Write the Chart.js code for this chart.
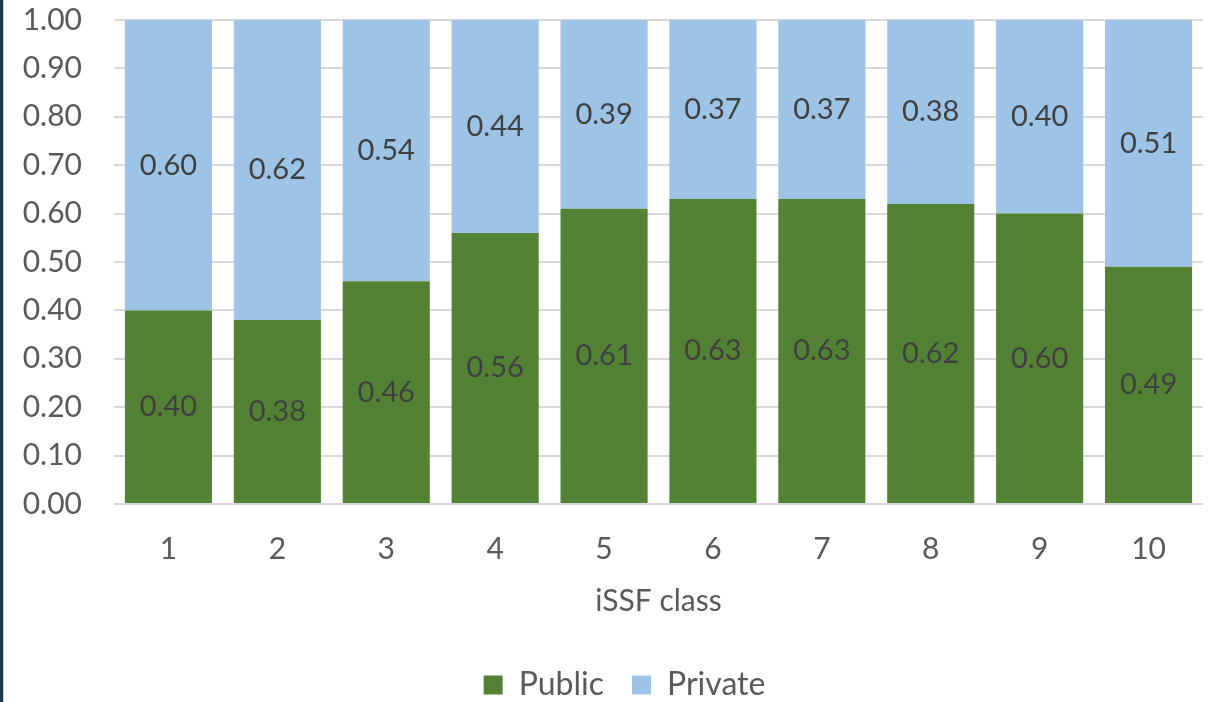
<!DOCTYPE html>
<html>
<head>
<meta charset="utf-8">
<script src="https://cdn.jsdelivr.net/npm/chart.js@4.4.1/dist/chart.umd.min.js"></script>
<style>
  html, body { margin: 0; padding: 0; background: #ffffff; }
  #wrap { position: relative; width: 1214px; height: 702px; overflow: hidden; }
  #edge { position: absolute; left: 0; top: 0; width: 3px; height: 702px; background: #1f3b57; }
  #edge2 { position: absolute; left: 3px; top: 0; width: 1px; height: 702px; background: #d6d6d6; }
  canvas { position: absolute; left: 0; top: 0; }
</style>
</head>
<body>
<div id="wrap">
  <canvas id="chart" width="1214" height="702"></canvas>
  <div id="edge"></div>
  <div id="edge2"></div>
</div>
<script>
// iSSF classes and the public / private shares in each
const classes = ['1', '2', '3', '4', '5', '6', '7', '8', '9', '10'];
const publicShare = [0.40, 0.38, 0.46, 0.56, 0.61, 0.63, 0.63, 0.62, 0.60, 0.49];
const privateShare = [0.60, 0.62, 0.54, 0.44, 0.39, 0.37, 0.37, 0.38, 0.40, 0.51];
const yTicks = [0, 0.1, 0.2, 0.3, 0.4, 0.5, 0.6, 0.7, 0.8, 0.9, 1.0];

const FONT = 'Lato, "Open Sans", sans-serif';
const TEXT = '#595959';

// Writes each segment's value at its middle
const segmentLabels = {
  id: 'segmentLabels',
  afterDatasetsDraw(chart) {
    const ctx = chart.ctx;
    ctx.save();
    ctx.font = '29px ' + FONT;
    ctx.fillStyle = '#404040';
    ctx.textAlign = 'center';
    ctx.textBaseline = 'middle';
    chart.data.datasets.forEach((ds, i) => {
      const meta = chart.getDatasetMeta(i);
      meta.data.forEach((bar, j) => {
        const y = (bar.y + bar.base) / 2;
        ctx.fillText(ds.data[j].toFixed(2), bar.x, y);
      });
    });
    ctx.restore();
  }
};

// Nudges the legend a little to the right of the canvas centre
const legendShift = {
  id: 'legendShift',
  afterLayout(chart) {
    if (chart.legend) {
      chart.legend.left += 17;
      chart.legend.right += 17;
    }
  }
};

new Chart(document.getElementById('chart'), {
  type: 'bar',
  data: {
    labels: classes,
    datasets: [
      { label: 'Public', data: publicShare, backgroundColor: '#548235' },
      { label: 'Private', data: privateShare, backgroundColor: '#9dc3e6' }
    ]
  },
  options: {
    responsive: false,
    animation: false,
    devicePixelRatio: 1,
    layout: { padding: { left: 12, right: 11, top: 20, bottom: -9 } },
    datasets: { bar: { barPercentage: 0.8, categoryPercentage: 1.0 } },
    scales: {
      x: {
        stacked: true,
        afterFit(axis) { axis.height = 137; },
        grid: { display: false, drawTicks: false },
        border: { display: false },
        ticks: { color: TEXT, font: { family: FONT, size: 30 }, padding: 27 },
        title: { display: true, text: 'iSSF class', color: TEXT, font: { family: FONT, size: 30 }, padding: { top: 0, bottom: 22 } }
      },
      y: {
        stacked: true,
        min: 0,
        max: 1,
        afterBuildTicks(axis) { axis.ticks = yTicks.map(v => ({ value: v })); },
        afterFit(axis) { axis.width = 102; },
        // invisible tick marks keep the labels clear of the plot
        grid: { color: '#d9d9d9', lineWidth: 2, drawTicks: true, tickLength: 32, tickColor: 'rgba(0,0,0,0)' },
        border: { display: false },
        ticks: {
          color: TEXT,
          font: { family: FONT, size: 30 },
          padding: 0,
          callback: v => Number(v).toFixed(2)
        }
      }
    },
    plugins: {
      legend: {
        position: 'bottom',
        labels: {
          color: TEXT,
          font: { family: FONT, size: 32 },
          boxWidth: 19,
          boxHeight: 19,
          padding: 28
        }
      },
      tooltip: { enabled: false }
    }
  },
  plugins: [segmentLabels, legendShift]
});
</script>
</body>
</html>
